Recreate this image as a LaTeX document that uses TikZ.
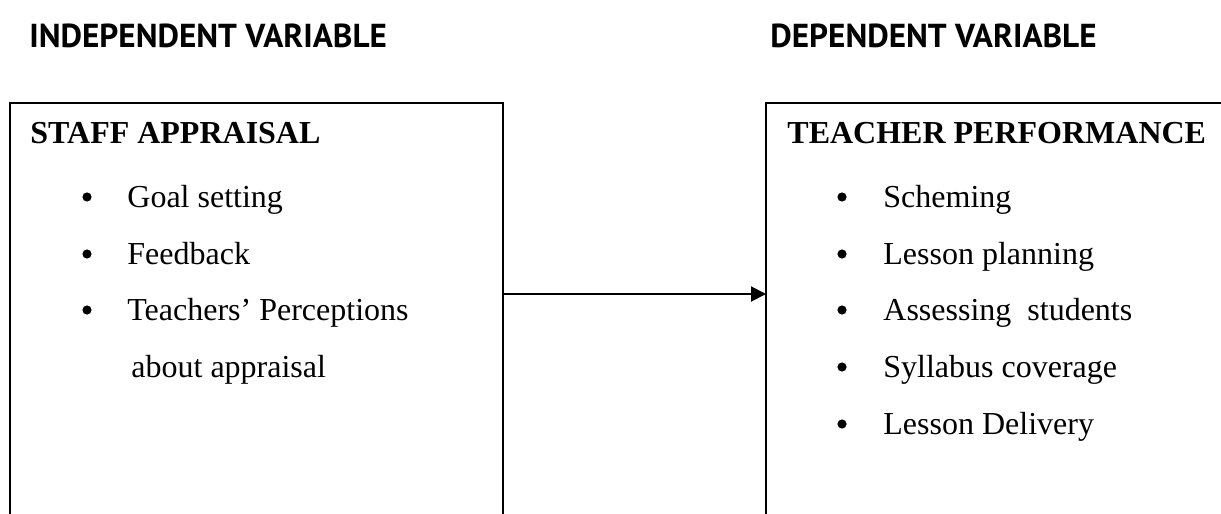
\documentclass[tikz,border=0pt]{standalone}
\usepackage{fontspec}
\setmainfont{Liberation Serif}
\newfontfamily\headfont{PT Sans}
\usetikzlibrary{arrows.meta}

\begin{document}
\begin{tikzpicture}[x=0.5pt,y=-0.5pt,
    heading/.style={anchor=base west,inner sep=0pt,
        font=\headfont\bfseries\fontsize{16.6}{19}\selectfont},
    boxtitle/.style={anchor=base west,inner sep=0pt,
        font=\bfseries\fontsize{16}{19}\selectfont},
    item/.style={anchor=base west,inner sep=0pt,
        font=\fontsize{16}{19}\selectfont},
    bul/.style={circle,fill=black,inner sep=0pt,minimum size=4.6pt}]
    \useasboundingbox (0,0) rectangle (1221,514);
    \clip (0,0) rectangle (1221,514);

%headings
    \node[heading] (indep) at (29,47) {INDEPENDENT VARIABLE};
    \node[heading] (dep) at (770,47) {DEPENDENT VARIABLE};

%boxes
    %left (staff appraisal)
	\draw[line width=1pt] (10,514) -- (10,103) -- (503,103) -- (503,514);
	\coordinate (apprR) at (503,294);

    %right (teacher performance)
	\draw[line width=1pt] (766,514) -- (766,103) -- (1221,103);
	\coordinate (perfL) at (766,294);

%left box texts
	\node[boxtitle] (appr) at (30,143) {STAFF APPRAISAL};
	\node[bul] (ba1) at (87,197) {};
	\node[item] (goal) at (127,207) {Goal setting};
	\node[bul] (ba2) at (87,254) {};
	\node[item] (feed) at (127,264) {Feedback};
	\node[bul] (ba3) at (87,310) {};
	\node[item] (perc) at (127,320) {Teachers’ Perceptions};
	\node[item] (about) at (131,377) {about appraisal};

%right box texts
	\node[boxtitle] (perf) at (787,143) {TEACHER PERFORMANCE};
	\node[bul] (bp1) at (842,197) {};
	\node[item] (schem) at (883,207) {Scheming};
	\node[bul] (bp2) at (842,254) {};
	\node[item] (plan) at (883,264) {Lesson planning};
	\node[bul] (bp3) at (842,310) {};
	\node[item] (assess) at (883,320) {Assessing\ \ students};
	\node[bul] (bp4) at (842,367) {};
	\node[item] (syll) at (883,377) {Syllabus coverage};
	\node[bul] (bp5) at (842,424) {};
	\node[item] (deliv) at (883,434) {Lesson Delivery};

%arrow
	\draw[line width=1pt,-{Triangle[length=7.5pt,width=7.5pt]}] (apprR) -- (perfL);
\end{tikzpicture}
\end{document}
